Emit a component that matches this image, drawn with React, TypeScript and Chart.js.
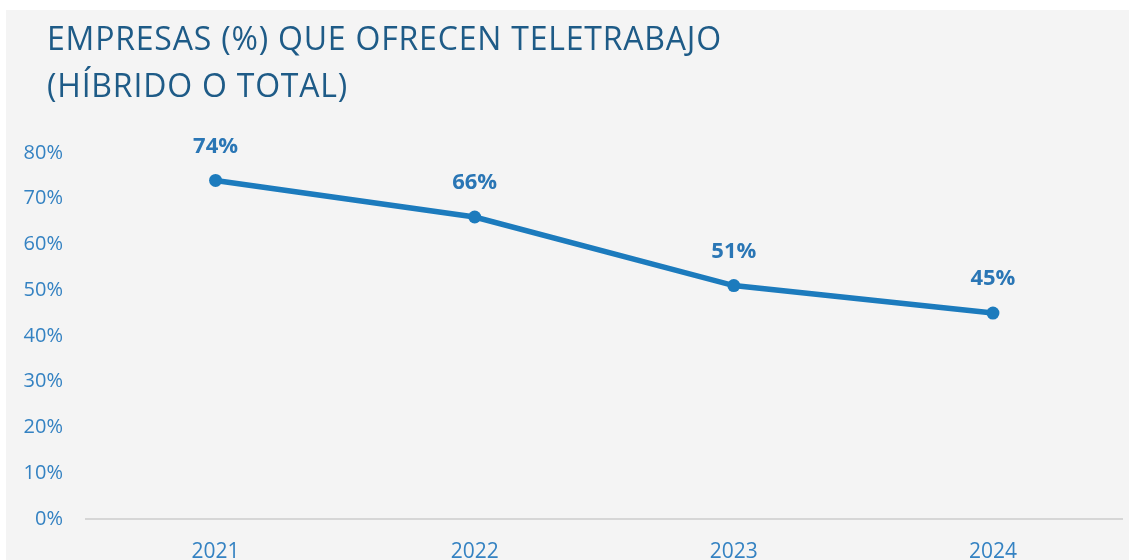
import React, { useEffect, useRef } from "react";
import { Chart, registerables } from "chart.js";

Chart.register(...registerables);

const titleLines = ["EMPRESAS (%) QUE OFRECEN TELETRABAJO", "(HÍBRIDO O TOTAL)"];
const years = ["2021", "2022", "2023", "2024"];
const shareValues = [74, 66, 51, 45];
const yTicks = [0, 10, 20, 30, 40, 50, 60, 70, 80];

const FONT = "'Open Sans', 'Noto Sans', sans-serif";
const LINE_COLOR = "#1c7bbd";
const TICK_COLOR = "#3482c2";
const LABEL_COLOR = "#2a76b5";
const TITLE_COLOR = "#1e5b87";

const titlePlugin = {
  id: "customTitle",
  afterDraw(chart: any) {
    const ctx = chart.ctx;
    ctx.save();
    ctx.fillStyle = TITLE_COLOR;
    ctx.font = `400 32px ${FONT}`;
    (ctx as any).letterSpacing = "0.8px";
    ctx.textAlign = "left";
    ctx.textBaseline = "alphabetic";
    ctx.fillText(titleLines[0], 41, 40);
    ctx.fillText(titleLines[1], 41, 87);
    ctx.restore();
  },
};

const dataLabelPlugin = {
  id: "dataLabels",
  afterDatasetsDraw(chart: any) {
    const ctx = chart.ctx;
    const meta = chart.getDatasetMeta(0);
    ctx.save();
    ctx.fillStyle = LABEL_COLOR;
    ctx.font = `700 22px ${FONT}`;
    ctx.textAlign = "center";
    ctx.textBaseline = "middle";
    meta.data.forEach((pt: any, i: number) => {
      ctx.fillText(shareValues[i] + "%", pt.x, pt.y - 34);
    });
    ctx.restore();
  },
};

export default function App() {
  const ref = useRef<HTMLCanvasElement | null>(null);
  useEffect(() => {
    if (!ref.current) return;
    const chart = new Chart(ref.current, {
      type: "line",
      data: {
        labels: years,
        datasets: [
          {
            data: shareValues,
            borderColor: LINE_COLOR,
            backgroundColor: LINE_COLOR,
            borderWidth: 5.5,
            pointRadius: 6.5,
            pointBackgroundColor: LINE_COLOR,
            pointBorderWidth: 0,
            tension: 0,
          },
        ],
      },
      options: {
        responsive: false,
        animation: false,
        layout: { padding: { left: 0, right: 3, top: 143, bottom: 24 } },
        plugins: {
          legend: { display: false },
          title: { display: false },
          tooltip: { enabled: false },
        },
        scales: {
          x: {
            offset: true,
            grid: { display: false, drawTicks: false },
            border: { display: true, color: "#d6d6d6", width: 2 },
            ticks: {
              color: TICK_COLOR,
              font: { family: FONT, size: 21 },
              padding: 21,
            },
          },
          y: {
            min: 0,
            max: 80,
            grid: { display: false, drawTicks: false },
            border: { display: false },
            afterFit(scale: any) {
              scale.width = 80;
            },
            afterBuildTicks(scale: any) {
              scale.ticks = yTicks.map((v) => ({ value: v }));
            },
            ticks: {
              color: TICK_COLOR,
              font: { family: FONT, size: 20 },
              padding: 23,
              callback: (v: any) => v + "%",
            },
          },
        },
      },
      plugins: [titlePlugin, dataLabelPlugin],
    });
    return () => chart.destroy();
  }, []);

  return (
    <div
      style={{
        position: "fixed",
        left: 0,
        top: 0,
        width: 1129,
        height: 560,
        background: "#ffffff",
        overflow: "hidden",
      }}
    >
      <div
        style={{
          position: "absolute",
          left: 6,
          top: 10,
          width: 1123,
          height: 550,
          background: "#f4f4f4",
          overflow: "hidden",
        }}
      >
        <canvas ref={ref} width={1123} height={600} style={{ display: "block" }} />
      </div>
    </div>
  );
}
